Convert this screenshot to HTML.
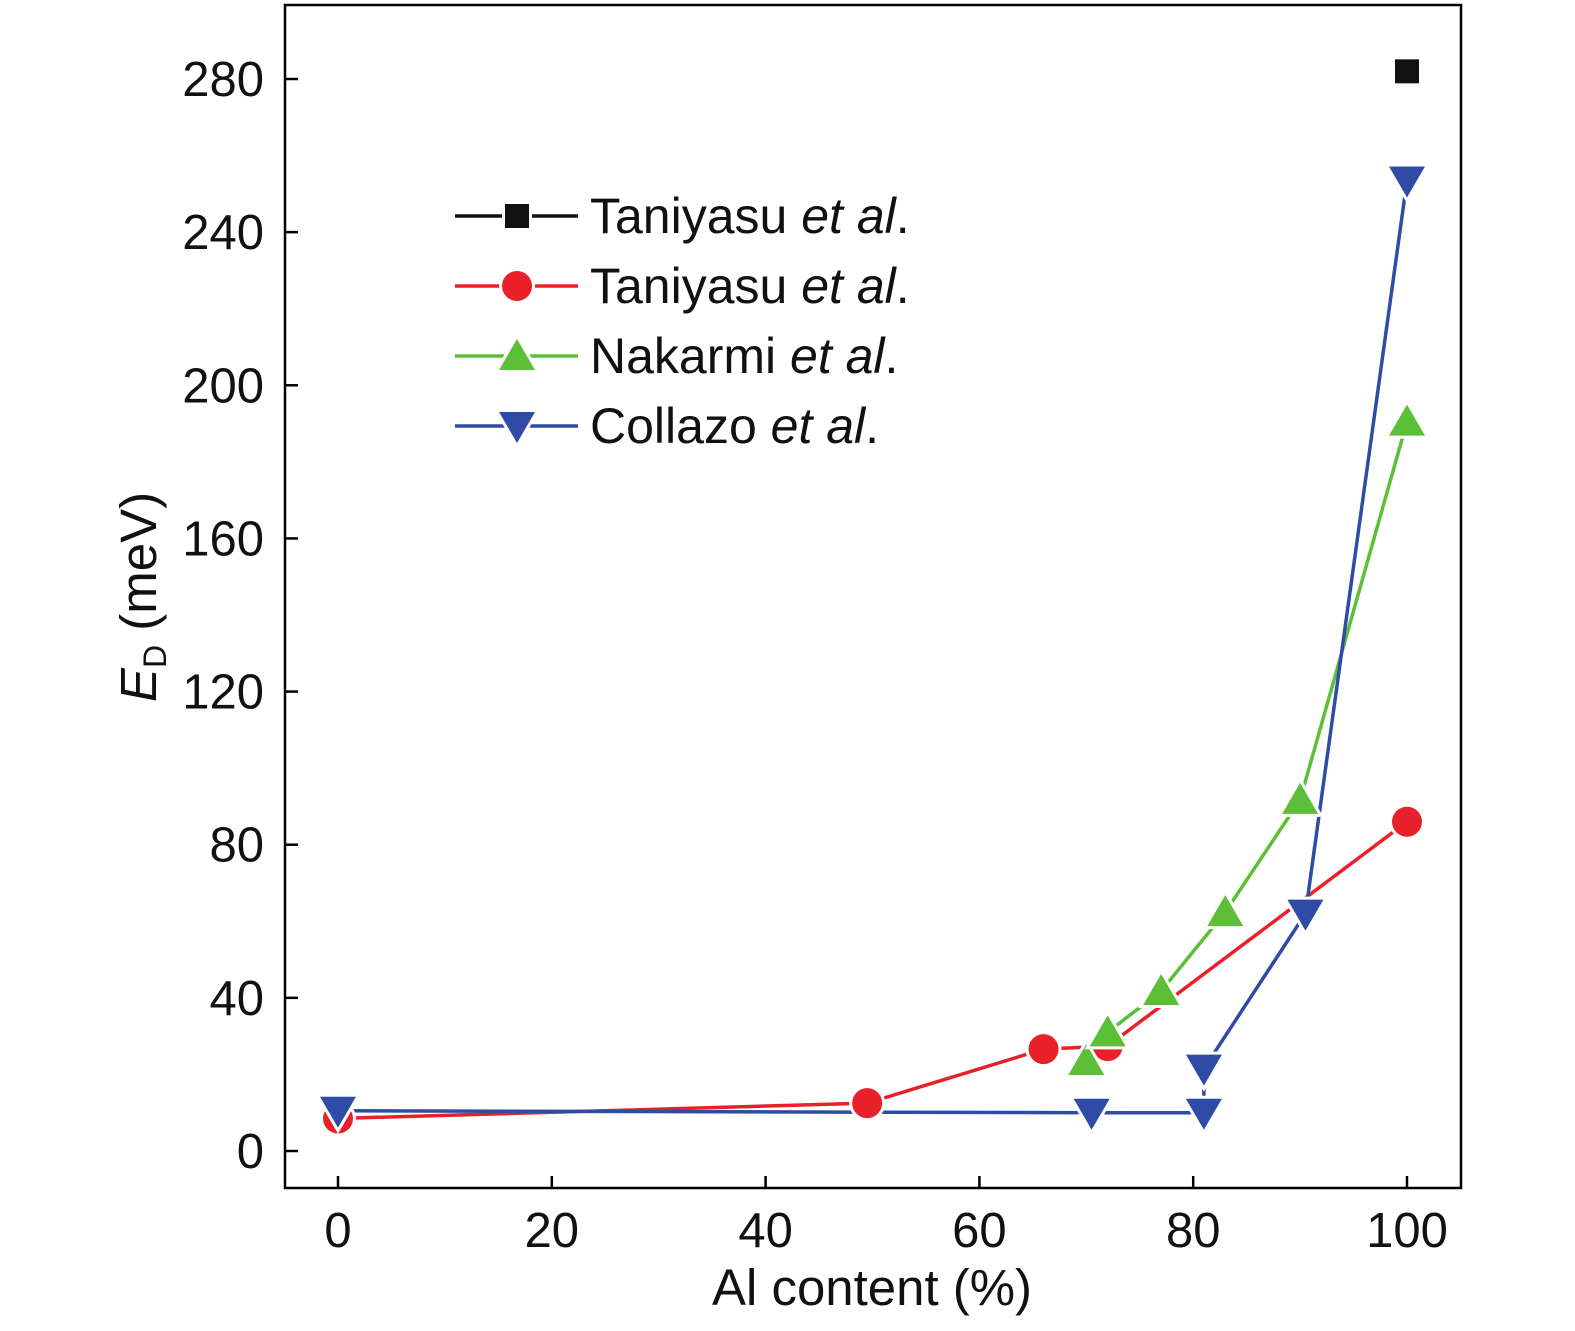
<!DOCTYPE html>
<html><head><meta charset="utf-8">
<style>
html,body{margin:0;padding:0;background:#fff;}
svg{display:block;font-family:"Liberation Sans",sans-serif;}
</style></head>
<body>
<svg id="chart" width="1575" height="1331" viewBox="0 0 1575 1331" xmlns="http://www.w3.org/2000/svg">
<rect x="285" y="5" width="1176" height="1183" fill="none" stroke="#000" stroke-width="2.5"/>
<g id="ticks"></g>
<g id="series"></g>
<text x="872" y="1305" font-size="51" text-anchor="middle" fill="#111" textLength="320" lengthAdjust="spacingAndGlyphs">Al content (%)</text>
<text transform="translate(156,597) rotate(-90)" font-size="51" text-anchor="middle" fill="#111"><tspan font-style="italic">E</tspan><tspan font-size="32" dy="10">D</tspan><tspan dy="-10"> (meV)</tspan></text>
<g id="legend"></g>
</svg>
<script>
const xTicks=[0,20,40,60,80,100];
const yTicks=[0,40,80,120,160,200,240,280];
const sqX=[100]; const sqY=[282];
const redX=[0,49.5,66,72,100]; const redY=[8.5,12.5,26.6,27.4,86];
const greenX=[70,72,77,83,90,100]; const greenY=[23.5,31,41.8,62.4,91.7,190.5];
const blueX=[0,70.5,81,81,90.5,100]; const blueY=[10.5,10,10,21.5,62,253.5];
const legendLabels=["Taniyasu","Taniyasu","Nakarmi","Collazo"];

const NS="http://www.w3.org/2000/svg";
const X=v=>338+v*(1407-338)/100;
const Y=v=>1151-v*(1151-79)/280;
function mk(tag,attrs,parent){const e=document.createElementNS(NS,tag);for(const k in attrs)e.setAttribute(k,attrs[k]);parent.appendChild(e);return e;}
const tg=document.getElementById('ticks');
xTicks.forEach(t=>{
  const l=mk('line',{x1:X(t),x2:X(t),y1:1188,y2:1176,stroke:'#000','stroke-width':2.5},tg);
  
  
  const tx=mk('text',{x:X(t),y:1247,'font-size':49,'text-anchor':'middle',fill:'#111'},tg);
  tx.textContent=t;
  
  
});
yTicks.forEach(t=>{
  const l=mk('line',{x1:285,x2:298,y1:Y(t),y2:Y(t),stroke:'#000','stroke-width':2.5},tg);
  
  
  const tx=mk('text',{x:264,y:Y(t)+17,'font-size':49,'text-anchor':'end',fill:'#111'},tg);
  tx.textContent=t;
  
  
});
function marker(type,cx,cy,color,parent){
  let e;
  const s={fill:color,stroke:'#fff','stroke-width':6,'paint-order':'stroke'};
  if(type==='sq'){e=mk('rect',Object.assign({x:cx-12,y:cy-12,width:24,height:24},s),parent);}
  else if(type==='c'){e=mk('circle',Object.assign({cx:cx,cy:cy,r:15},s),parent);}
  else if(type==='up'){e=mk('polygon',Object.assign({points:`${cx},${cy-17} ${cx-18},${cy+14} ${cx+18},${cy+14}`},s),parent);}
  else {e=mk('polygon',Object.assign({points:`${cx-18},${cy-14} ${cx+18},${cy-14} ${cx},${cy+17}`},s),parent);}
  return e;
}
const sg=document.getElementById('series');
const series=[
 {xs:sqX,ys:sqY,c:'#111',t:'sq',n:'taniyasu-square'},
 {xs:redX,ys:redY,c:'#e8202a',t:'c',n:'taniyasu-circle'},
 {xs:greenX,ys:greenY,c:'#5bbf37',t:'up',n:'nakarmi'},
 {xs:blueX,ys:blueY,c:'#2f4ba6',t:'dn',n:'collazo'}
];
series.forEach(s=>{
  if(s.xs.length>1){
    const pl=mk('polyline',{points:s.xs.map((x,i)=>X(x)+','+Y(s.ys[i])).join(' '),fill:'none',stroke:s.c,'stroke-width':3.5},sg);
    
    
  }
});
series.forEach(s=>{
  s.xs.forEach((x,i)=>{
    const m=marker(s.t,X(x),Y(s.ys[i]),s.c,sg);
    
    
  });
});
const lg=document.getElementById('legend');
series.forEach((s,i)=>{
  const y=216+i*70;
  const l=mk('line',{x1:455,x2:578,y1:y,y2:y,stroke:s.c,'stroke-width':3.5},lg);
  
  
  const m=marker(s.t,517,y,s.c,lg);
  
  
  const tx=mk('text',{x:590,y:y+17,'font-size':50,fill:'#111'},lg);
  tx.innerHTML=legendLabels[i]+' <tspan font-style="italic">et al</tspan>.';
  
  
});
</script>
</body></html>
